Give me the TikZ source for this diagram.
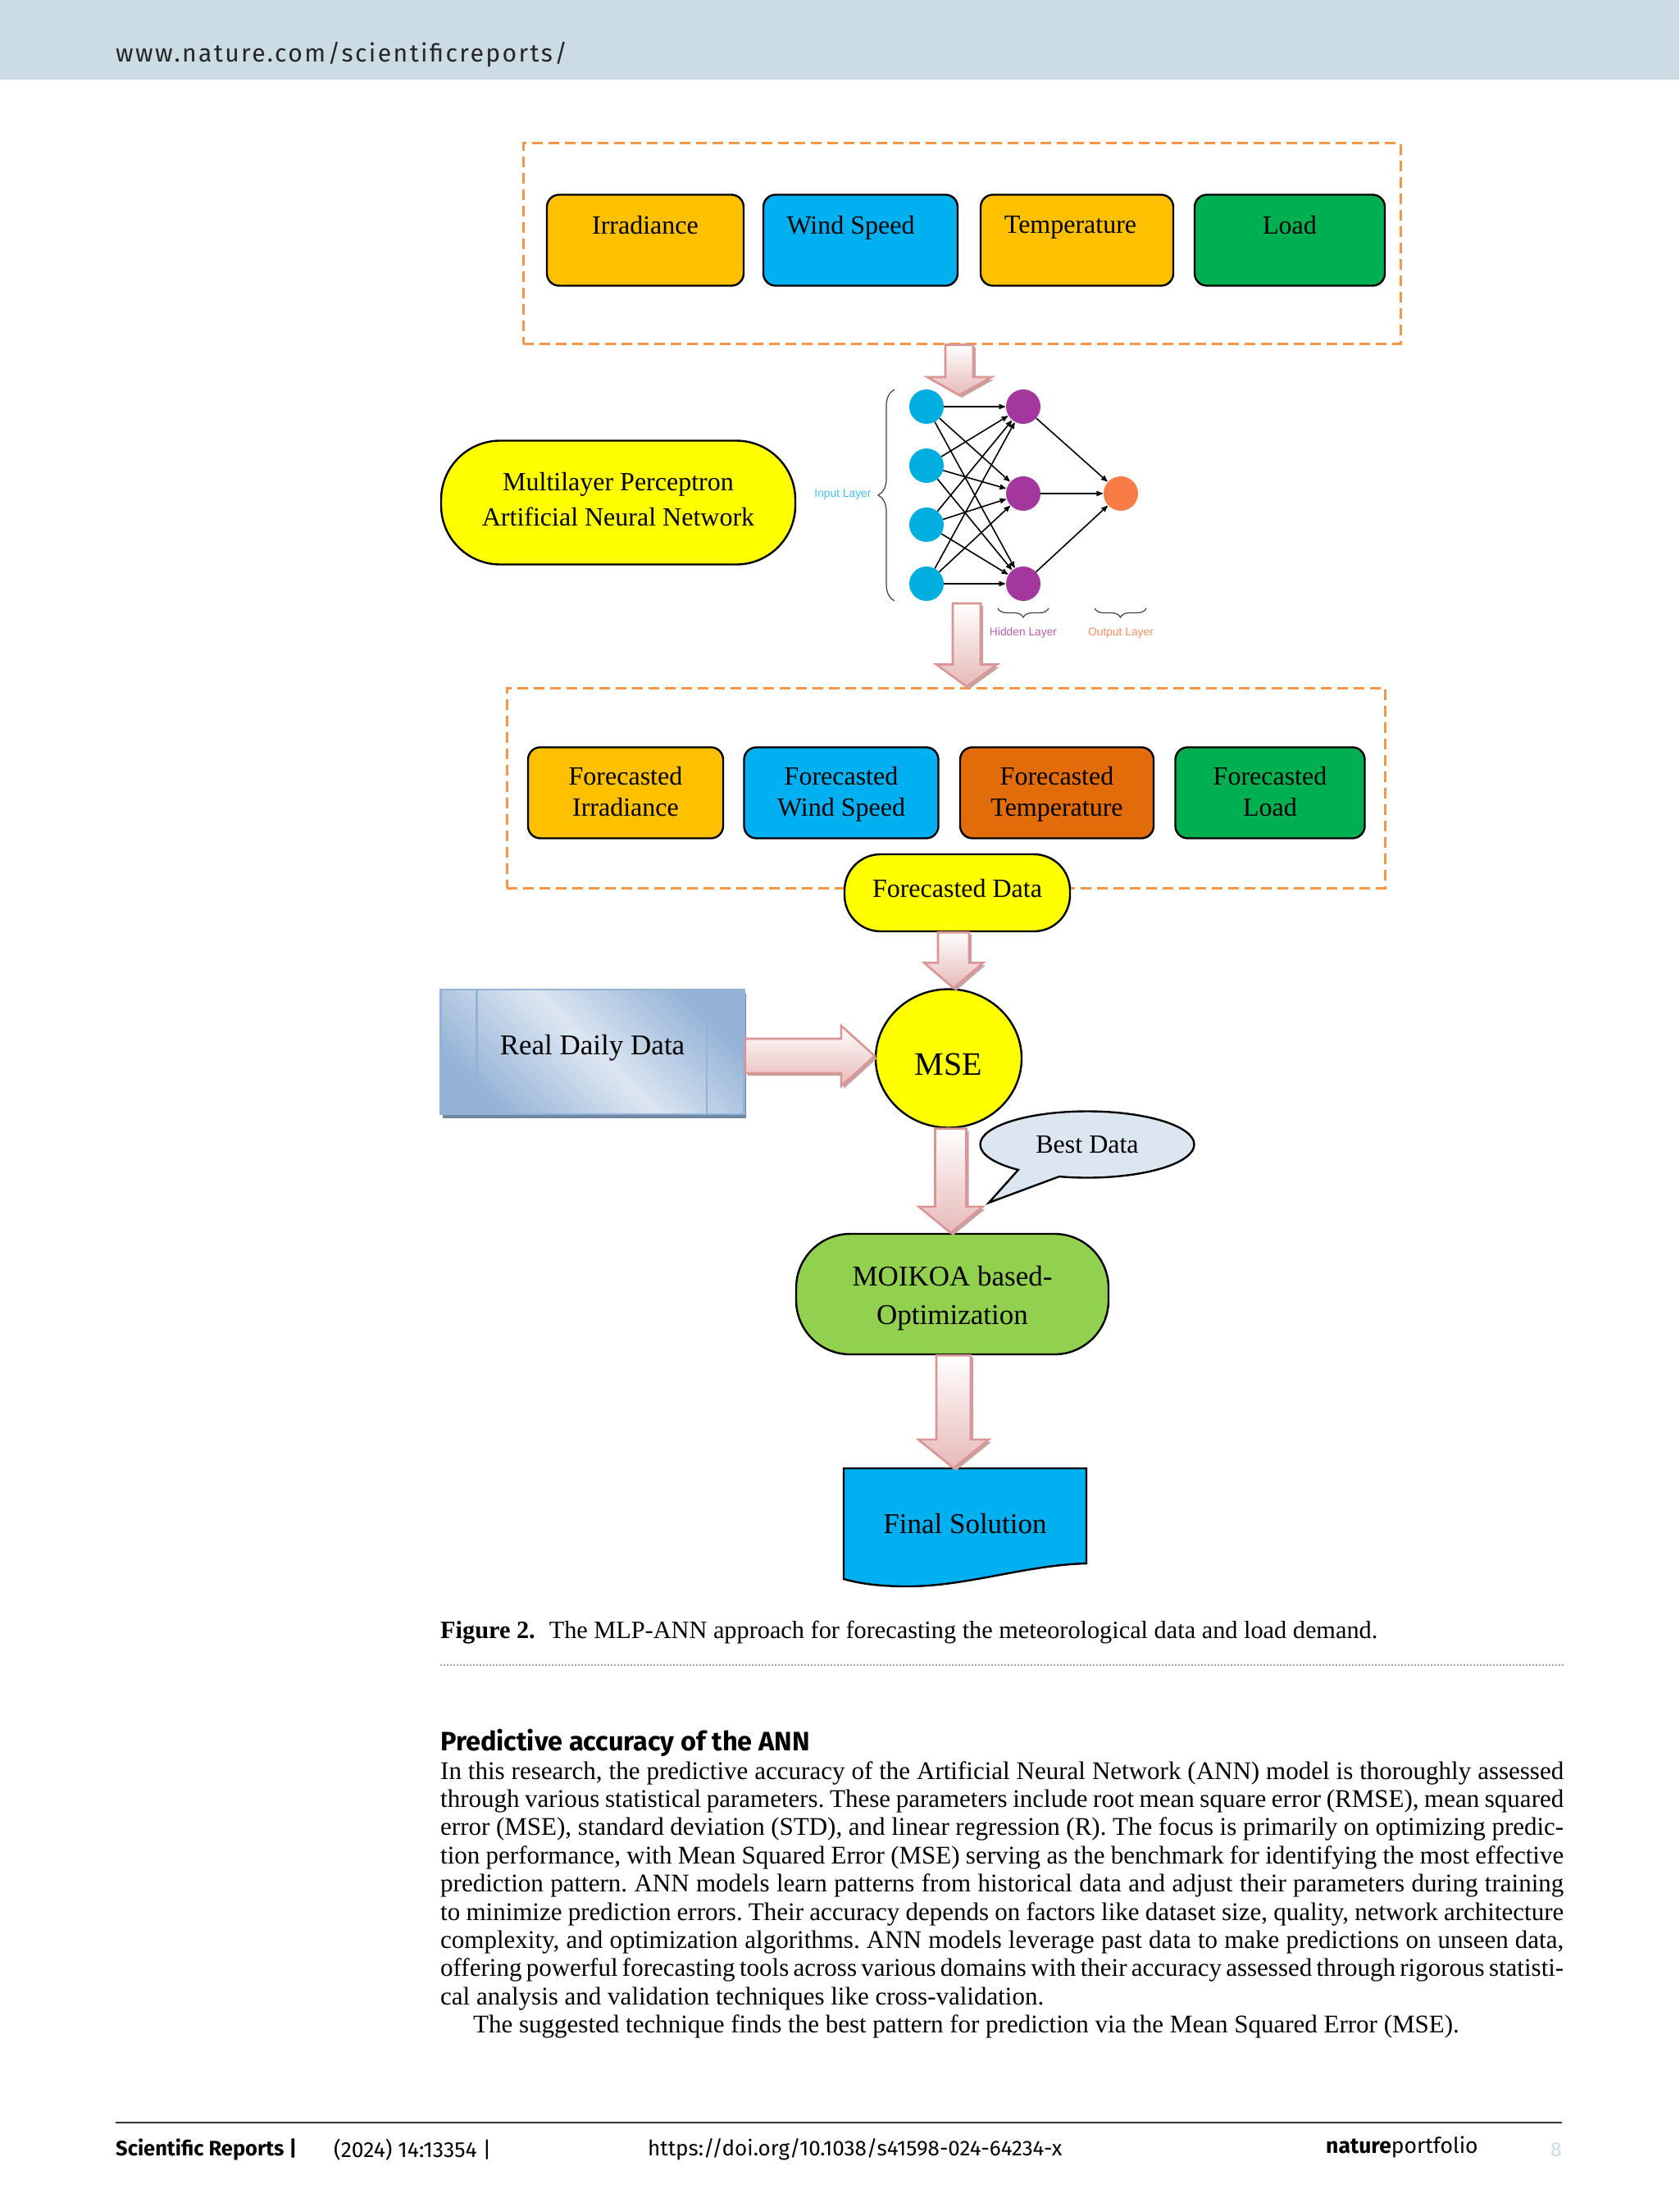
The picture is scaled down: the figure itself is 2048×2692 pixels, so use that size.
\documentclass[tikz,border=0pt]{standalone}
\usepackage{fontspec}
\setmainfont{Liberation Serif}
\setsansfont{Fira Sans}
\newfontfamily\headfont[LetterSpace=8]{Fira Sans}
\newfontfamily\netfont{Liberation Sans}
\usetikzlibrary{arrows,positioning,calc,shapes.geometric,shapes.callouts,shadows,decorations.pathreplacing}
\definecolor{bandblue}{HTML}{CBDCE5}
\definecolor{dashorange}{HTML}{F79646}
\definecolor{boxamber}{HTML}{FFC000}
\definecolor{boxblue}{HTML}{00B0F0}
\definecolor{boxgreen}{HTML}{00B050}
\definecolor{boxrust}{HTML}{E36C0A}
\definecolor{boxlime}{HTML}{92D050}
\definecolor{boxyellow}{HTML}{FFFF00}
\definecolor{paleblue}{HTML}{DCE6F1}
\definecolor{midblue}{HTML}{95B3D7}
\definecolor{arrowpink}{HTML}{E6B9B8}
\definecolor{arrowedge}{HTML}{D99694}
\definecolor{arrowdark}{HTML}{C4A3A2}
\definecolor{netblue}{HTML}{00AEE0}
\definecolor{netpurple}{HTML}{A4379E}
\definecolor{netorange}{HTML}{F97B45}
\tikzstyle{dasharea}=[draw=dashorange,line width=3pt,dash pattern=on 13pt off 7pt,minimum height=244pt]
\tikzstyle{databox}=[draw,line width=2.4pt,rounded corners=15pt,minimum height=111pt,align=center,font=\fontsize{32}{38}\selectfont]
\tikzstyle{termbox}=[draw,line width=2.4pt,fill=boxyellow,align=center]
\tikzstyle{netnode}=[circle,minimum size=42pt,inner sep=0pt]
\tikzstyle{netline}=[-stealth',line width=1.6pt,shorten >=1pt]
\tikzstyle{netbrace}=[draw=black!75,line width=1.2pt,decorate]
\tikzstyle{netlabel}=[font=\netfont\fontsize{13.8}{16}\selectfont]
\tikzstyle{arrowbody}=[draw=arrowedge,line width=2.6pt,top color=white,bottom color=arrowpink]
\tikzstyle{arrowshadow}=[fill=arrowdark,transform canvas={shift={(3pt,-3pt)}}]
\newcommand{\bigarrow}[5]{
  \coordinate (ah) at ($(#2)!#5!(#1)$);
  \coordinate (a1) at ($(#1)!#3!90:(#2)$);
  \coordinate (a2) at ($(ah)!#3!90:(#2)$);
  \coordinate (a3) at ($(ah)!#4!90:(#2)$);
  \coordinate (a4) at ($(ah)!#4!-90:(#2)$);
  \coordinate (a5) at ($(ah)!#3!-90:(#2)$);
  \coordinate (a6) at ($(#1)!#3!-90:(#2)$);
  \fill[arrowshadow] (a1) -- (a2) -- (a3) -- (#2) -- (a4) -- (a5) -- (a6) -- cycle;
  \draw[arrowbody] (a1) -- (a2) -- (a3) -- (#2) -- (a4) -- (a5) -- (a6) -- cycle;
}
\begin{document}
\begin{tikzpicture}[x=1pt,y=-1pt]
    \useasboundingbox (0,0) rectangle (2048,2692);
    \fill[white] (0,0) rectangle (2048,2692);
    \fill[bandblue] (0,0) rectangle (2048,97);
    \node [anchor=west,inner sep=0pt,font=\headfont\fontsize{30.1}{34}\selectfont,text=black!85] (journal) at (141,67) {www.nature.com/scientificreports/};

    % inputs
    \node [dasharea,minimum width=1070pt] (toparea) at (1173,297) {};
    \node [databox,fill=boxamber,minimum width=240pt] (irr) at (787,293) {Irradiance\\\phantom{x}};
    \node [databox,fill=boxblue,minimum width=237pt] (wind) at (1049.5,293) {\hspace*{-24pt}Wind Speed\\\phantom{x}};
    \node [databox,fill=boxamber,minimum width=235pt] (temp) at (1313.5,293) {\hspace*{-16pt}Temperature\\\phantom{x}};
    \node [databox,fill=boxgreen,minimum width=232pt] (load) at (1573,293) {Load\\\phantom{x}};

    % network
    \node [termbox,rounded corners=72pt,minimum width=432pt,minimum height=151pt,font=\fontsize{32}{43}\selectfont] (mlp) at (754,613) {Multilayer Perceptron\\Artificial Neural Network\\[-35pt]\mbox{}};
    \node [netnode,fill=netblue] (in1) at (1130,496) {};
    \node [netnode,fill=netblue] (in2) at (1130,568) {};
    \node [netnode,fill=netblue] (in3) at (1130,640) {};
    \node [netnode,fill=netblue] (in4) at (1130,712) {};
    \node [netnode,fill=netpurple] (hid1) at (1248,496) {};
    \node [netnode,fill=netpurple] (hid2) at (1248,602) {};
    \node [netnode,fill=netpurple] (hid3) at (1248,712) {};
    \node [netnode,fill=netorange] (out) at (1367,602) {};
    \draw[netline] (in1) -- (hid1);
    \draw[netline] (in1) -- (hid2);
    \draw[netline] (in1) -- (hid3);
    \draw[netline] (in2) -- (hid1);
    \draw[netline] (in2) -- (hid2);
    \draw[netline] (in2) -- (hid3);
    \draw[netline] (in3) -- (hid1);
    \draw[netline] (in3) -- (hid2);
    \draw[netline] (in3) -- (hid3);
    \draw[netline] (in4) -- (hid1);
    \draw[netline] (in4) -- (hid2);
    \draw[netline] (in4) -- (hid3);
    \draw[netline] (hid1) -- (out);
    \draw[netline] (hid2) -- (out);
    \draw[netline] (hid3) -- (out);
    \draw[netbrace,decoration={brace,amplitude=20pt}] (1091,733) -- (1091,475);
    \draw[netbrace,decoration={brace,amplitude=11pt}] (1279,742) -- (1217,742);
    \draw[netbrace,decoration={brace,amplitude=11pt}] (1398,742) -- (1335,742);
    \node [netlabel,text=netblue!75] (inlabel) at (1028,603) {Input Layer};
    \node [netlabel,text=netpurple!80] (hidlabel) at (1248,772) {Hidden Layer};
    \node [netlabel,text=netorange!85] (outlabel) at (1367,772) {Output Layer};

    % forecasts
    \node [dasharea,minimum width=1071pt] (botarea) at (1153.5,961) {};
    \node [databox,fill=boxamber,minimum width=238pt] (firr) at (763,967) {\mbox{}\\[-13pt]Forecasted\\Irradiance\vphantom{p}};
    \node [databox,fill=boxblue,minimum width=237pt] (fwind) at (1026,967) {\mbox{}\\[-13pt]Forecasted\\Wind Speed};
    \node [databox,fill=boxrust,minimum width=236pt] (ftemp) at (1289,967) {\mbox{}\\[-13pt]Forecasted\\Temperature};
    \node [databox,fill=boxgreen,minimum width=231pt] (fload) at (1549,967) {\mbox{}\\[-13pt]Forecasted\\Load\vphantom{p}};
    \node [termbox,rounded corners=44pt,minimum width=275pt,minimum height=94pt,font=\fontsize{32}{37}\selectfont] (fdata) at (1167.5,1089) {\raisebox{-5pt}[0pt][0pt]{Forecasted Data}};

    % evaluation
    \node [termbox,ellipse,inner sep=0pt,minimum width=178pt,minimum height=169pt,font=\fontsize{40}{46}\selectfont] (mse) at (1157,1291) {\raisebox{-20pt}[0pt][0pt]{MSE}};
    \node [draw=midblue,line width=2.6pt,minimum width=370pt,minimum height=152pt,
           top color=midblue,bottom color=midblue,middle color=paleblue,shading angle=-45,
           drop shadow={shadow xshift=2pt,shadow yshift=-5pt,fill=black!25!midblue,opacity=1},
           font=\fontsize{35}{41}\selectfont] (rdata) at (722.5,1283) {\raisebox{-3pt}[0pt][0pt]{Real Daily Data}};
    \draw[midblue,line width=2.6pt] ($(rdata.north west)+(45,0)$) -- ($(rdata.south west)+(45,0)$);
    \draw[midblue,line width=2.6pt] ($(rdata.north east)+(-47,0)$) -- ($(rdata.south east)+(-47,0)$);
    \node [draw,line width=2.4pt,fill=paleblue,ellipse callout,minimum width=261pt,minimum height=81pt,inner sep=0pt,
           callout absolute pointer={(1206,1467)},callout pointer arc=25,font=\fontsize{32}{37}\selectfont] (best) at (1326,1396) {Best Data};
    \node [termbox,fill=boxlime,rounded corners=66pt,minimum width=381pt,minimum height=147pt,font=\fontsize{35}{47}\selectfont] (moikoa) at (1161.5,1578.5) {\mbox{}\\[-13pt]MOIKOA based-\\Optimization};
    \draw[line width=2.4pt,fill=boxblue] (1029,1791) -- (1325,1791) -- (1325,1907) .. controls (1250,1909) and (1180,1935) .. (1106,1935) .. controls (1075,1935) and (1050,1932) .. (1029,1926) -- cycle;
    \node [minimum width=296pt,minimum height=135pt,font=\fontsize{35}{40}\selectfont] (final) at (1177,1858.5) {Final Solution};

    % big arrows
    \coordinate (cola) at (1170,482);
    \coordinate (colb) at (1179,736);
    \coordinate (colc) at (1163,0);
    \coordinate (cold) at (1159.5,0);
    \coordinate (rowa) at (0,1288);
    \bigarrow{toparea.south -| cola}{cola}{17pt}{39pt}{22pt}
    \bigarrow{colb}{botarea.north -| colb}{17pt}{37pt}{27pt}
    \bigarrow{fdata.south -| colc}{mse.north -| colc}{19pt}{36pt}{31pt}
    \bigarrow{rdata.east |- rowa}{mse.west |- rowa}{21pt}{37pt}{41pt}
    \bigarrow{mse.south -| cold}{moikoa.north -| cold}{19pt}{39pt}{32pt}
    \bigarrow{moikoa.south -| colc}{final.north -| colc}{21pt}{43pt}{35pt}

    % page text
    \node [anchor=west,inner sep=0pt,font=\fontsize{30.3}{35}\selectfont] (caption) at (537,1991) {\textbf{Figure 2.}\hspace{17pt}The MLP-ANN approach for forecasting the meteorological data and load demand.};
    \draw[black!35,line width=2pt,dotted] (caption.west |- 0,2031) -- (1907,2031);
    \node [anchor=west,inner sep=0pt,font=\sffamily\bfseries\fontsize{32.5}{36}\selectfont] (heading) at (537,2126) {Predictive accuracy of the ANN};
    \node [anchor=north west,inner sep=0pt,text width=1370pt,align=justify,font=\frenchspacing\fontsize{31}{34.4}\selectfont] (body) at (537,2148) {In this research, the predictive accuracy of the Artificial Neural Network (ANN) model is thoroughly assessed\linebreak
through various statistical parameters. These parameters include root mean square error (RMSE), mean squared\linebreak
error (MSE), standard deviation (STD), and linear regression (R). The focus is primarily on optimizing predic-\linebreak
tion performance, with Mean Squared Error (MSE) serving as the benchmark for identifying the most effective\linebreak
prediction pattern. ANN models learn patterns from historical data and adjust their parameters during training\linebreak
to minimize prediction errors. Their accuracy depends on factors like dataset size, quality, network architecture\linebreak
complexity, and optimization algorithms. ANN models leverage past data to make predictions on unseen data,\linebreak
offering powerful forecasting tools across various domains with their accuracy assessed through rigorous statisti-\linebreak
cal analysis and validation techniques like cross-validation.\\
\hspace*{40pt}The suggested technique finds the best pattern for prediction via the Mean Squared Error (MSE).};

    % footer
    \draw[black!80,line width=2pt] (141,2589) -- (1905,2589);
    \node [anchor=west,inner sep=0pt,font=\sffamily\bfseries\fontsize{25.5}{29}\selectfont] (jname) at (141,2622) {Scientific Reports |};
    \node [anchor=west,inner sep=0pt,font=\sffamily\fontsize{26.5}{29}\selectfont] (jref) at (407,2622) {(2024) 14:13354 |};
    \node [anchor=west,inner sep=0pt,font=\sffamily\fontsize{26}{29}\selectfont] (jdoi) at (790,2622) {https://doi.org/10.1038/s41598-024-64234-x};
    \node [anchor=west,inner sep=0pt,font=\sffamily\fontsize{26.5}{33}\selectfont] (jbrand) at (1617,2619) {\textbf{nature}portfolio};
    \node [anchor=east,inner sep=0pt,text=bandblue,font=\sffamily\fontsize{25}{29}\selectfont] (jpage) at (1905,2622) {8};
\end{tikzpicture}
\end{document}
